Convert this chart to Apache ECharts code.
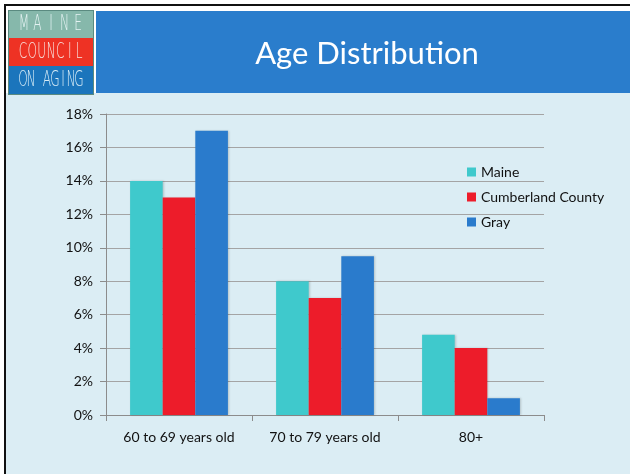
<!DOCTYPE html>
<html>
<head>
<meta charset="utf-8">
<script src="https://cdn.jsdelivr.net/npm/echarts@6/dist/echarts.min.js"></script>
<style>
  html, body { margin: 0; padding: 0; background: #fff; }
  #chart { width: 630px; height: 474px; }
</style>
</head>
<body>
<div id="chart"></div>
<script>
// age groups and shares (%)
const categories = ['60 to 69 years old', '70 to 79 years old', '80+'];
const seriesNames = ['Maine', 'Cumberland County', 'Gray'];
const maine = [14, 8, 4.8];
const cumberland = [13, 7, 4];
const gray = [17, 9.5, 1];
const colors = ['#3fc9cc', '#ed1c2a', '#2a7bcc'];

const chart = echarts.init(document.getElementById('chart'));

const barStyle = (c) => ({
  color: c,
  shadowColor: 'rgba(0,0,0,0.18)',
  shadowBlur: 2,
  shadowOffsetX: 1,
});

// logo words, letters spread across the band like the printed logo
const logoLetters = (word, y, x0, x1, fill) => {
  const chars = word.split('');
  const step = (x1 - x0) / (chars.length - 1);
  return chars.map((ch, i) => ({
    type: 'text',
    x: x0 + step * i,
    y: y,
    scaleX: 0.55,
    style: {
      text: ch,
      fill: fill,
      font: '200 22px "DejaVu Sans"',
      textAlign: 'center',
      textVerticalAlign: 'middle',
    },
  }));
};

const option = {
  backgroundColor: '#ffffff',
  animation: false,
  graphic: [
    // slide background + frame
    { type: 'rect', shape: { x: 5, y: 93, width: 625, height: 381 }, style: { fill: '#dbedf4' }, z: -10 },
    { type: 'rect', shape: { x: 4, y: 4, width: 626, height: 2 }, style: { fill: '#111' }, z: -5 },
    { type: 'rect', shape: { x: 4, y: 4, width: 2, height: 470 }, style: { fill: '#111' }, z: -5 },
    // title bar
    { type: 'rect', shape: { x: 96, y: 11, width: 534, height: 82 }, style: { fill: '#2a7dcc' }, z: -5 },
    // logo
    { type: 'rect', shape: { x: 8, y: 10, width: 86, height: 85 }, style: { fill: '#5a8a80' }, z: -6 },
    { type: 'rect', shape: { x: 9, y: 11, width: 84, height: 27 }, style: { fill: '#86b8ab' }, z: -5 },
    { type: 'rect', shape: { x: 9, y: 38, width: 84, height: 28 }, style: { fill: '#ee3224' }, z: -5 },
    { type: 'rect', shape: { x: 9, y: 66, width: 84, height: 28 }, style: { fill: '#1b75bc' }, z: -5 },
    ...logoLetters('MAINE', 24, 24, 78, '#e4f2f2'),
    ...logoLetters('COUNCIL', 52, 23, 79, '#f8e4e0'),
    ...logoLetters('ON AGING', 80, 23, 79, '#d8ecf6'),
  ],
  title: {
    text: 'Age Distribution',
    left: 362,
    top: 33,
    textAlign: 'center',
    textStyle: { color: '#ffffff', fontSize: 31, fontWeight: 'normal', fontFamily: 'Lato' },
  },
  legend: {
    data: seriesNames,
    orient: 'vertical',
    left: 467,
    top: 165,
    padding: 0,
    itemWidth: 9,
    itemHeight: 9,
    itemGap: 11,
    icon: 'rect',
    textStyle: { fontSize: 14, color: '#111', fontFamily: 'Lato' },
  },
  grid: { left: 106, right: 86, top: 114, bottom: 59, containLabel: false },
  xAxis: {
    type: 'category',
    data: categories,
    axisLine: { lineStyle: { color: '#8c8c8c', width: 1 } },
    axisTick: { show: true, length: 6, lineStyle: { color: '#8c8c8c' } },
    axisLabel: { color: '#111', fontSize: 14, margin: 15, fontFamily: 'Lato' },
  },
  yAxis: {
    type: 'value',
    min: 0,
    max: 18,
    interval: 2,
    axisLine: { show: true, lineStyle: { color: '#8c8c8c', width: 1 } },
    axisTick: { show: true, length: 6, lineStyle: { color: '#8c8c8c' } },
    axisLabel: { color: '#111', fontSize: 14, margin: 13, fontFamily: 'Lato', formatter: '{value}%' },
    splitLine: { lineStyle: { color: '#a4a4a4', width: 1 } },
  },
  series: [
    { name: seriesNames[0], type: 'bar', data: maine, barGap: 0, barCategoryGap: '33%', itemStyle: barStyle(colors[0]) },
    { name: seriesNames[1], type: 'bar', data: cumberland, itemStyle: barStyle(colors[1]) },
    { name: seriesNames[2], type: 'bar', data: gray, itemStyle: barStyle(colors[2]) },
  ],
};

chart.setOption(option);
</script>
</body>
</html>
